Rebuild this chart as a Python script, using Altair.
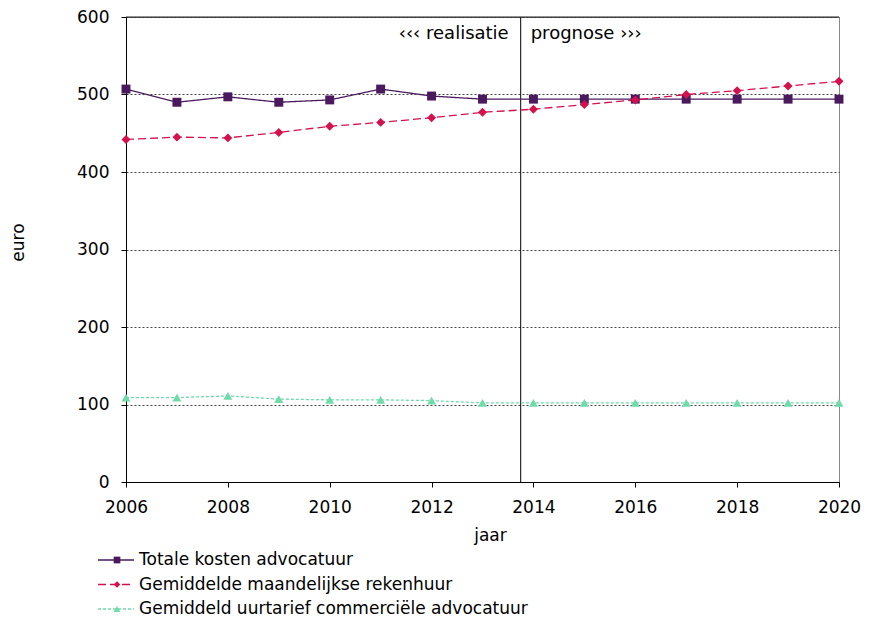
import altair as alt
import pandas as pd

years = [2006, 2007, 2008, 2009, 2010, 2011, 2012, 2013, 2014, 2015, 2016, 2017, 2018, 2019, 2020]
series = [
    "Totale kosten advocatuur",
    "Gemiddelde maandelijkse rekenhuur",
    "Gemiddeld uurtarief commerciële advocatuur",
]
totale = [507, 490, 497, 490, 493, 507, 498, 494, 494, 494, 494, 494, 494, 494, 494]
rekenhuur = [442, 445, 444, 451, 459, 464, 470, 477, 481, 487, 493, 500, 505, 511, 517]
uurtarief = [109, 109, 111, 107, 106, 106, 105, 102, 102, 102, 102, 102, 102, 102, 102]

colors = ["#4b1a5e", "#d4114d", "#6fdba9"]
dashes = [[1, 0], [8, 4], [3, 2]]
shapes = ["square", "diamond", "triangle-up"]
x_ticks = [2006, 2008, 2010, 2012, 2014, 2016, 2018, 2020]
y_ticks = [0, 100, 200, 300, 400, 500, 600]
split_year = [2013.75]
phase_labels = ["‹‹‹ realisatie", "prognose ›››"]
top_value = [600]

FONT = "DejaVu Sans"
FS = 17

rows = []
for s, vals in zip(series, [totale, rekenhuur, uurtarief]):
    for yr, v in zip(years, vals):
        rows.append({"serie": s, "jaar": yr, "euro": v})
df = pd.DataFrame(rows)

color = alt.Color("serie:N", scale=alt.Scale(domain=series, range=colors), legend=None)
dash = alt.StrokeDash("serie:N", scale=alt.Scale(domain=series, range=dashes), legend=None)
shape = alt.Shape("serie:N", scale=alt.Scale(domain=series, range=shapes), legend=None)

x = alt.X(
    "jaar:Q",
    scale=alt.Scale(domain=[2006, 2020], nice=False, zero=False),
    axis=alt.Axis(
        values=x_ticks, format="d", title="jaar", grid=False,
        labelFlush=False, labelPadding=12,
        titleX=364, titleY=53, titleAlign="center", titleBaseline="middle",
    ),
)
y = alt.Y(
    "euro:Q",
    scale=alt.Scale(domain=[0, 600], nice=False),
    axis=alt.Axis(
        values=y_ticks, title="euro", grid=True, labelFlush=False, labelPadding=12,
        titleX=-108, titleY=225, titleAngle=270, titleAlign="center", titleBaseline="middle",
    ),
)

base = alt.Chart(df)
lines = base.mark_line(strokeWidth=1.3).encode(x=x, y=y, color=color, strokeDash=dash)
points = base.mark_point(filled=True, size=80, opacity=1).encode(x=x, y=y, color=color, shape=shape)

split_df = pd.DataFrame({"jaar": split_year})
split_rule = alt.Chart(split_df).mark_rule(color="black", strokeWidth=1).encode(x="jaar:Q")
top_rule = alt.Chart(pd.DataFrame({"euro": top_value})).mark_rule(color="#222", strokeWidth=1).encode(y="euro:Q")

lbl_left = alt.Chart(pd.DataFrame({"jaar": split_year, "t": [phase_labels[0]]})).mark_text(
    align="right", baseline="middle", dx=-12, dy=17, font=FONT, fontSize=18, color="black"
).encode(x="jaar:Q", y=alt.datum(600), text="t:N")
lbl_right = alt.Chart(pd.DataFrame({"jaar": split_year, "t": [phase_labels[1]]})).mark_text(
    align="left", baseline="middle", dx=10, dy=17, font=FONT, fontSize=18, color="black"
).encode(x="jaar:Q", y=alt.datum(600), text="t:N")

main = alt.layer(split_rule, top_rule, lines, points, lbl_left, lbl_right)

leg_df = pd.DataFrame({"serie": series})
ly = alt.Y("serie:N", scale=alt.Scale(domain=series, type="point", range=[543, 592], padding=0), axis=None)
leg_rule = alt.Chart(leg_df).mark_rule(strokeWidth=1.3).encode(
    x=alt.value(-28), x2=alt.value(8), y=ly, color=color, strokeDash=dash
)
leg_pt = alt.Chart(leg_df).mark_point(filled=True, size=45, opacity=1).encode(
    x=alt.value(-9), y=ly, color=color, shape=shape
)
leg_txt = alt.Chart(leg_df).mark_text(
    align="left", baseline="middle", font=FONT, fontSize=FS, color="black"
).encode(x=alt.value(13), y=ly, text="serie:N")
legend = alt.layer(leg_rule, leg_pt, leg_txt)

chart = (
    alt.layer(main, legend)
    .resolve_scale(y="independent")
    .properties(
        width=713, height=465,
        autosize=alt.AutoSizeParams(type="none"),
        padding={"left": 118, "top": 9, "right": 22, "bottom": 137},
    )
    .configure_view(stroke="#888", strokeWidth=1)
    .configure_axis(
        labelFont=FONT, labelFontSize=FS, labelColor="black",
        titleFont=FONT, titleFontSize=FS, titleFontWeight="normal", titleColor="black",
        domainColor="black", domainWidth=1, tickColor="black", tickSize=5,
        gridColor="#444", gridDash=[2, 2], gridWidth=1, gridOpacity=1,
    )
)

chart.save("out.html", embed_options={"renderer": "svg", "actions": False})
